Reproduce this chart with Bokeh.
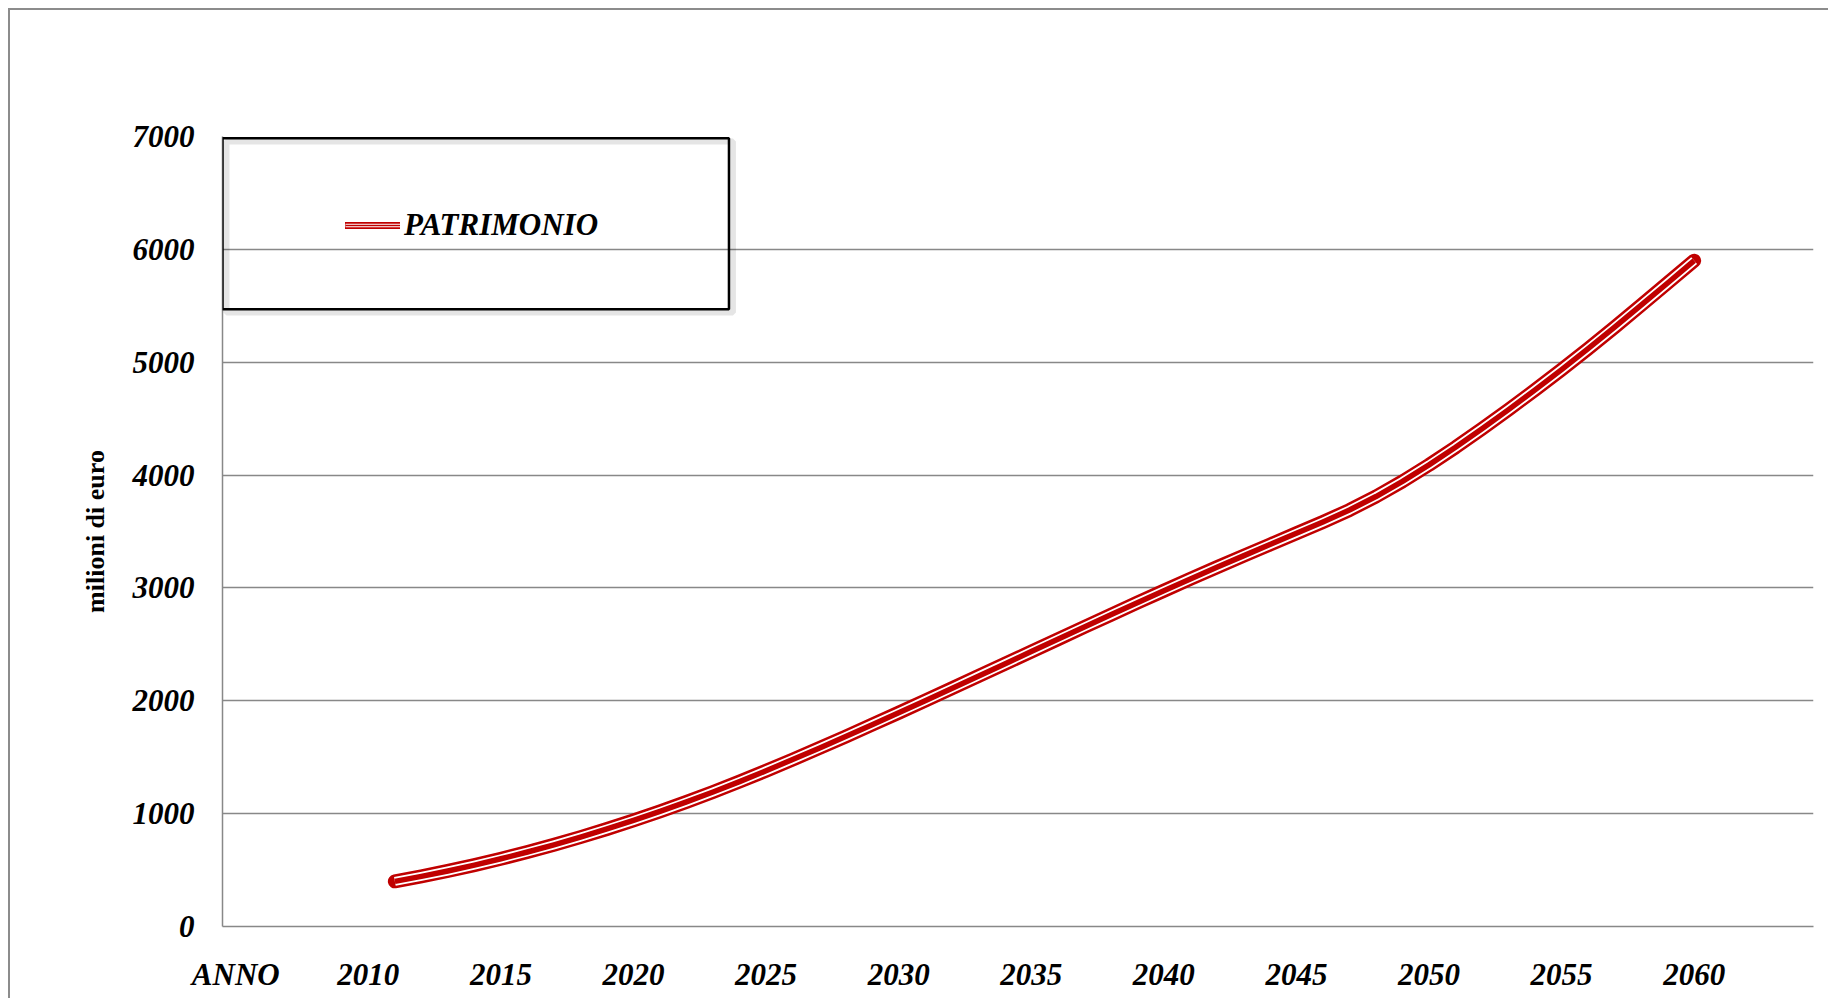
from bokeh.plotting import figure
from bokeh.models import (FixedTicker, Legend, LegendItem, BoxAnnotation, Range1d)
from bokeh.embed import file_html
from bokeh.resources import INLINE

# ---- data ----
years = list(range(2011, 2061))
patrimonio = [
    400, 444, 492, 544, 600, 660, 724, 792, 864, 940,
    1020, 1104, 1192, 1284, 1380, 1479, 1580, 1683, 1788, 1894,
    2001, 2109, 2218, 2327, 2436, 2545, 2654, 2762, 2869, 2975,
    3080, 3183, 3284, 3384, 3484, 3584, 3690, 3810, 3944, 4090,
    4246, 4410, 4580, 4755, 4934, 5120, 5310, 5505, 5702, 5900,
]
series_name = "PATRIMONIO"
y_title = "milioni di euro"
x_ticks = [2005, 2010, 2015, 2020, 2025, 2030, 2035, 2040, 2045, 2050, 2055, 2060]
x_tick_labels = ["ANNO", "2010", "2015", "2020", "2025", "2030", "2035",
                 "2040", "2045", "2050", "2055", "2060"]
y_ticks = [0, 1000, 2000, 3000, 4000, 5000, 6000, 7000]

RED = "#c00000"
GRID = "#888888"
FONT = "Liberation Serif"

p = figure(width=1820, height=990, output_backend="svg", toolbar_location=None,
           x_range=Range1d(2004.5, 2064.5), y_range=Range1d(0, 7000),
           min_border_left=212, min_border_top=126, min_border_right=17,
           min_border_bottom=74)
p.styles = {"margin-left": "8px", "margin-top": "8px",
            "border-left": "2px solid #8c8c8c", "border-top": "2px solid #8c8c8c"}
p.outline_line_color = None
p.background_fill_color = "white"
p.border_fill_color = "white"

# grid
p.xgrid.grid_line_color = None
p.ygrid.grid_line_color = GRID
p.ygrid.grid_line_width = 1.5
p.ygrid.ticker = FixedTicker(ticks=y_ticks)

# axes
for ax in (p.xaxis[0], p.yaxis[0]):
    ax.axis_line_color = GRID
    ax.axis_line_width = 1.5
    ax.major_tick_line_color = None
    ax.minor_tick_line_color = None
    ax.major_tick_out = 0
    ax.major_tick_in = 0
    ax.major_label_text_font = FONT
    ax.major_label_text_font_style = "bold italic"
    ax.major_label_text_font_size = "31px"
    ax.major_label_text_color = "black"

p.xaxis.ticker = FixedTicker(ticks=x_ticks)
p.xaxis.major_label_overrides = {t: l for t, l in zip(x_ticks, x_tick_labels)}
p.xaxis.major_label_standoff = 30
p.yaxis.ticker = FixedTicker(ticks=y_ticks)
p.yaxis.major_label_standoff = 28
p.yaxis.axis_label = y_title
p.yaxis.axis_label_text_font = FONT
p.yaxis.axis_label_text_font_style = "bold"
p.yaxis.axis_label_text_font_size = "26px"
p.yaxis.axis_label_text_color = "black"
p.yaxis.axis_label_standoff = 20

# thin copies used for the legend swatch (fully covered by the thick lines below)
g1 = p.line(years, patrimonio, line_color=RED, line_width=7, line_cap="round")
g2 = p.line(years, patrimonio, line_color="white", line_width=3.5)
g3 = p.line(years, patrimonio, line_color=RED, line_width=1.3)

# double-line series
l1 = p.line(years, patrimonio, line_color=RED, line_width=14, line_cap="round", line_join="round")
l2 = p.line(years, patrimonio, line_color="white", line_width=9, line_join="round")
l3 = p.line(years, patrimonio, line_color=RED, line_width=5.5, line_join="round")

# legend frame + shadow
shadow = BoxAnnotation(left=2004.65, right=2023.75, top=6955, bottom=5440,
                       fill_alpha=0, line_color="black", line_alpha=0.10, line_width=6)
frame = BoxAnnotation(left=2004.5, right=2023.6, top=6985, bottom=5470,
                      fill_alpha=0, line_color="black", line_alpha=1.0, line_width=2.5)
p.add_layout(shadow)
p.add_layout(frame)

legend = Legend(items=[LegendItem(label=series_name, renderers=[g1, g2, g3])],
                location=(123, 683))
legend.padding = 0
legend.margin = 0
legend.spacing = 0
legend.border_line_alpha = 0
legend.background_fill_alpha = 0
legend.glyph_width = 55
legend.glyph_height = 30
legend.label_height = 30
legend.label_standoff = 4
legend.label_text_font = FONT
legend.label_text_font_style = "bold italic"
legend.label_text_font_size = "31px"
legend.label_text_color = "black"
p.add_layout(legend)

open("out.html", "w").write(file_html(p, INLINE))
